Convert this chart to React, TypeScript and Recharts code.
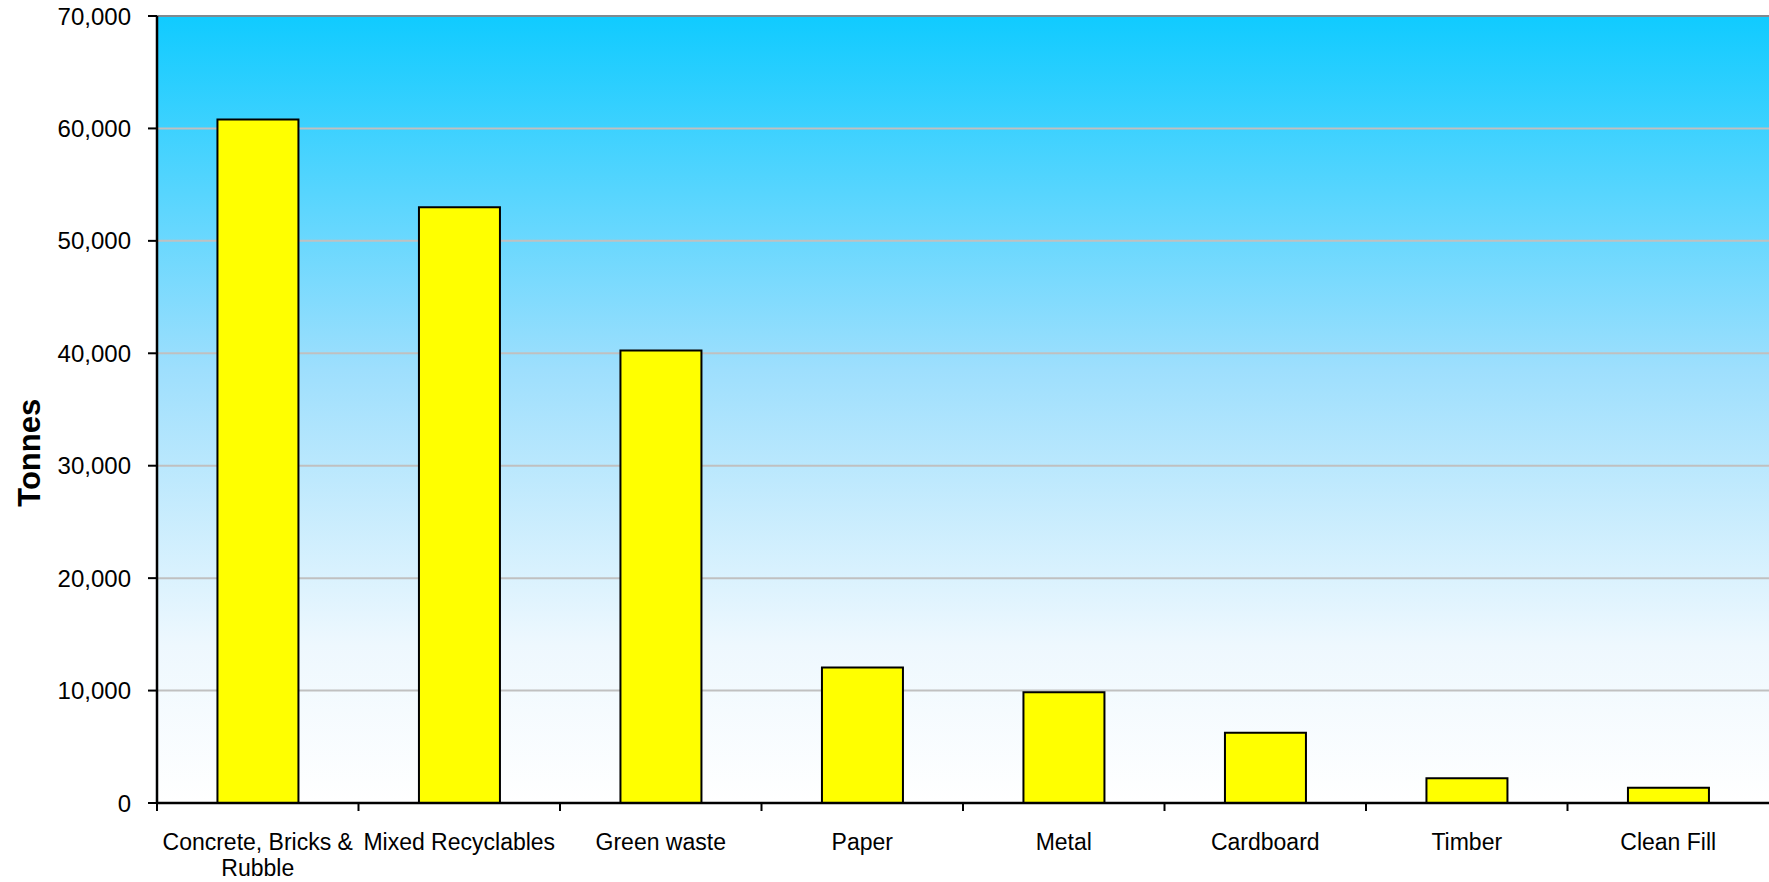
import { Bar, BarChart, CartesianGrid, ReferenceLine, Text, XAxis, YAxis } from "recharts";

const categories = [
  "Concrete, Bricks & Rubble",
  "Mixed Recyclables",
  "Green waste",
  "Paper",
  "Metal",
  "Cardboard",
  "Timber",
  "Clean Fill",
];
const tonnes = [60800, 53000, 40250, 12050, 9850, 6250, 2200, 1350];
const yTicks = [0, 10000, 20000, 30000, 40000, 50000, 60000, 70000];

const data = categories.map((name, i) => ({ name, tonnes: tonnes[i] }));

const FONT = "'Liberation Sans', Arial, sans-serif";
const TICK_LEN = 8;
const TICK_GAP = 23;

function CategoryTick(props: any) {
  const { x, y, payload, width, visibleTicksCount } = props;
  const band = width / visibleTicksCount;
  const edge = x - band / 2;
  const axisY = y - TICK_GAP - TICK_LEN;
  return (
    <g>
      <line x1={edge} x2={edge} y1={axisY} y2={axisY + TICK_LEN} stroke="#000" strokeWidth={2} />
      <Text
        x={x}
        y={y}
        width={band}
        textAnchor="middle"
        verticalAnchor="start"
        lineHeight={26}
        fontSize={23}
        fontFamily={FONT}
        style={{ fontSize: "23px", fontFamily: FONT }}
        fill="#000"
      >
        {payload.value}
      </Text>
    </g>
  );
}

function TonnesLabel(props: any) {
  const vb = props.viewBox;
  const cx = vb.x + 30;
  const cy = vb.y + vb.height * 0.555;
  return (
    <text
      x={cx}
      y={cy}
      transform={`rotate(-90, ${cx}, ${cy})`}
      textAnchor="middle"
      dominantBaseline="central"
      fontSize={31}
      fontWeight="bold"
      fontFamily={FONT}
      fill="#000"
    >
      Tonnes
    </text>
  );
}

export default function App() {
  return (
    <div style={{ position: "absolute", left: 0, top: 0 }}>
      <BarChart
        width={1769}
        height={882}
        data={data}
        margin={{ top: 16, right: 0, bottom: 0, left: 0 }}
        barCategoryGap="30%"
      >
        <defs>
          <linearGradient id="plotBg" x1="0" y1="0" x2="0" y2="1">
            <stop offset="0%" stopColor="#10cbff" />
            <stop offset="45%" stopColor="#9edffd" />
            <stop offset="80%" stopColor="#eef8fe" />
            <stop offset="100%" stopColor="#ffffff" />
          </linearGradient>
        </defs>
        <CartesianGrid
          vertical={false}
          stroke="#c0c0c0"
          strokeWidth={2}
          fill="url(#plotBg)"
          fillOpacity={1}
        />
        <ReferenceLine y={70000} stroke="#7f8a90" strokeWidth={2} />
        <XAxis
          dataKey="name"
          height={79}
          interval={0}
          tickLine={false}
          tickSize={TICK_LEN}
          tickMargin={TICK_GAP}
          axisLine={{ stroke: "#000", strokeWidth: 2.5 }}
          tick={<CategoryTick />}
        />
        <YAxis
          width={157}
          domain={[0, 70000]}
          ticks={yTicks}
          interval={0}
          tickSize={9}
          tickMargin={17}
          tickFormatter={(v: number) => v.toLocaleString("en-US")}
          tickLine={{ stroke: "#000", strokeWidth: 2 }}
          axisLine={{ stroke: "#000", strokeWidth: 2.5 }}
          tick={{ fontSize: 24, fontFamily: FONT, fill: "#000" }}
          label={{ content: <TonnesLabel /> }}
        />
        <Bar
          dataKey="tonnes"
          fill="#ffff00"
          stroke="#000"
          strokeWidth={2}
          isAnimationActive={false}
        />
      </BarChart>
    </div>
  );
}
